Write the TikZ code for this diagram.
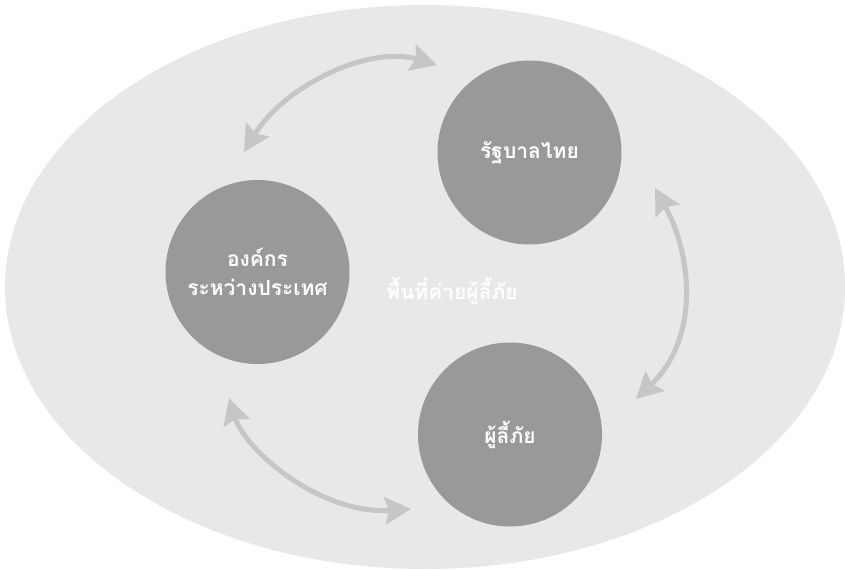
\documentclass[tikz,border=0pt]{standalone}
\usepackage{fontspec}
\newfontfamily\thaifont[Script=Thai]{Loma}
\usetikzlibrary{arrows.meta}
\definecolor{campgray}{HTML}{E8E8E8}
\definecolor{partygray}{HTML}{9A9999}
\definecolor{linkgray}{HTML}{C6C6C6}
\begin{document}
\begin{tikzpicture}[x=1pt,y=-1pt,
  twoway/.style={draw=linkgray,line width=5pt,
    {Stealth[length=26pt,width=27pt,inset=4pt]}-{Stealth[length=26pt,width=27pt,inset=4pt]}}]
  \useasboundingbox (0,0) rectangle (845,570);
  \fill[campgray] (425,287) ellipse [x radius=420, y radius=282];
  \begin{scope}[every node/.style={circle,fill=partygray,minimum size=184pt,inner sep=0pt,
      text=white,align=center,font=\thaifont\bfseries\fontsize{21}{29}\selectfont}]
  \node (gov) at (529.5,152.5) {รัฐบาลไทย};
  \node (intl) at (257.5,272) {องค์กร\\ระหว่างประเทศ};
  \node (refugee) at (510,434.5) {ผู้ลี้ภัย};
  \end{scope}
  \node[text=white,font=\thaifont\bfseries\fontsize{21}{24}\selectfont] (camp) at (452,291) {พื้นที่ค่ายผู้ลี้ภัย};
  % arrow ends
  \coordinate (i1) at (244,152);
  \coordinate (g1) at (437,65);
  \coordinate (g2) at (655,188);
  \coordinate (r1) at (636,399);
  \coordinate (i2) at (229,398);
  \coordinate (r2) at (411,509);
  \draw[twoway] (i1) .. controls (285,85) and (370,45) .. (g1);
  \draw[twoway] (g2) .. controls (692,255) and (700,338) .. (r1);
  \draw[twoway] (i2) .. controls (245,450) and (320,515) .. (r2);
\end{tikzpicture}
\end{document}
